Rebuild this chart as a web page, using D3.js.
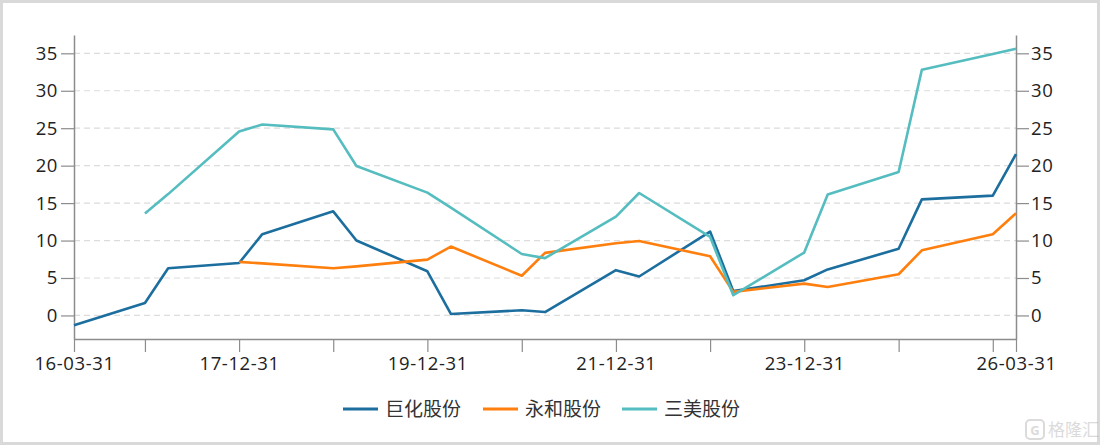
<!DOCTYPE html>
<html>
<head>
<meta charset="utf-8">
<script src="https://cdn.jsdelivr.net/npm/d3@7.9.0/dist/d3.min.js"></script>
<style>
  html, body { margin: 0; padding: 0; background: #fff; }
  svg { display: block; font-family: "Open Sans", "Noto Sans", "Noto Sans CJK SC", sans-serif; }
</style>
</head>
<body>
<svg id="chart" width="1100" height="445"></svg>
<script>
// report dates (annual + Q1)
const dates = [
  "16-03-31", "16-12-31", "17-03-31", "17-12-31", "18-03-31", "18-12-31",
  "19-03-31", "19-12-31", "20-03-31", "20-12-31", "21-03-31", "21-12-31",
  "22-03-31", "22-12-31", "23-03-31", "23-12-31", "24-03-31", "24-12-31",
  "25-03-31", "25-12-31", "26-03-31",
];
const seriesNames = ["巨化股份", "永和股份", "三美股份"];
const juhua = [
  -1.3, 1.65, 6.3, 7.0, 10.85, 13.9, 10.0, 5.9, 0.2, 0.7, 0.45,
  6.05, 5.2, 11.2, 3.25, 4.7, 6.15, 8.9, 15.5, 16.0, 21.55,
];
const yonghe = [
  null, null, null, 7.15, 6.95, 6.3, 6.55, 7.45, 9.2, 5.3, 8.35,
  9.65, 9.95, 7.9, 3.15, 4.25, 3.8, 5.5, 8.7, 10.85, 13.65,
];
const sanmei = [
  null, 13.6, 16.2, 24.55, 25.5, 24.85, 19.95, 16.4, 14.4, 8.2, 7.65,
  13.2, 16.35, 10.5, 2.7, 8.4, 16.15, 19.15, 32.8, 34.9, 35.6,
];
const colors = ["#1c6e9e", "#ff7f0e", "#55bdbf"];
const yTicks = [0, 5, 10, 15, 20, 25, 30, 35];
const xTickDates = [
  "16-03-31", "16-12-31", "17-12-31", "18-12-31", "19-12-31", "20-12-31",
  "21-12-31", "22-12-31", "23-12-31", "24-12-31", "25-12-31", "26-03-31",
];
const xLabeled = ["16-03-31", "17-12-31", "19-12-31", "21-12-31", "23-12-31", "26-03-31"];

const parse = d3.timeParse("%y-%m-%d");
const svg = d3.select("#chart");
const width = 1100, height = 445;
const margin = { top: 35, right: 84, bottom: 106, left: 74 };
const innerW = width - margin.left - margin.right;
const innerH = height - margin.top - margin.bottom;

// outer frame
svg.append("rect")
  .attr("x", 1.5).attr("y", 1.5)
  .attr("width", width - 3).attr("height", height - 3)
  .attr("fill", "#fff").attr("stroke", "#d9d9d9").attr("stroke-width", 3);

const g = svg.append("g").attr("transform", `translate(${margin.left},${margin.top})`);

const x = d3.scaleTime()
  .domain([parse(dates[0]), parse(dates[dates.length - 1])])
  .range([0, innerW]);

const all = juhua.concat(yonghe, sanmei).filter((v) => v != null);
const lo = d3.min(all), hi = d3.max(all);
const pad = (hi - lo) * 0.05;
const y = d3.scaleLinear().domain([lo - pad, hi + pad]).range([innerH, 0]);

// grid
g.append("g")
  .selectAll("line")
  .data(yTicks)
  .join("line")
  .attr("x1", 0).attr("x2", innerW)
  .attr("y1", (d) => y(d)).attr("y2", (d) => y(d))
  .attr("stroke", "#dcdcdc")
  .attr("stroke-width", 1.2)
  .attr("stroke-dasharray", "6,4");

function styleAxis(sel) {
  sel.select(".domain").attr("stroke", "#8c8c8c").attr("stroke-width", 1.5);
  sel.selectAll(".tick line").attr("stroke", "#8c8c8c").attr("stroke-width", 1.2);
  sel.selectAll(".tick text")
    .attr("fill", "#222")
    .style("font-family", "'Open Sans', sans-serif")
    .style("font-size", "18.5px")
    .style("letter-spacing", "0.6px");
}

g.append("g")
  .call(d3.axisLeft(y).tickValues(yTicks).tickSize(13).tickPadding(3).tickSizeOuter(0))
  .call(styleAxis);

g.append("g")
  .attr("transform", `translate(${innerW},0)`)
  .call(d3.axisRight(y).tickValues(yTicks).tickSize(13).tickPadding(2).tickSizeOuter(0))
  .call(styleAxis);

const fmt = d3.timeFormat("%y-%m-%d");
g.append("g")
  .attr("transform", `translate(0,${innerH})`)
  .call(
    d3.axisBottom(x)
      .tickValues(xTickDates.map(parse))
      .tickSize(13)
      .tickPadding(5)
      .tickSizeOuter(0)
      .tickFormat((d) => (xLabeled.includes(fmt(d)) ? fmt(d) : ""))
  )
  .call(styleAxis);

// lines
const seriesValues = [juhua, yonghe, sanmei];
const line = d3.line()
  .defined((d) => d.v != null)
  .x((d) => x(d.date))
  .y((d) => y(d.v));

seriesValues.forEach((vals, i) => {
  const pts = dates.map((d, k) => ({ date: parse(d), v: vals[k] }));
  g.append("path")
    .datum(pts)
    .attr("d", line)
    .attr("fill", "none")
    .attr("stroke", colors[i])
    .attr("stroke-width", 2.6)
    .attr("stroke-linejoin", "round");
});

// legend
const legendItems = [
  { x: 343, name: seriesNames[0], color: colors[0] },
  { x: 483, name: seriesNames[1], color: colors[1] },
  { x: 622, name: seriesNames[2], color: colors[2] },
];
const legend = svg.append("g").attr("transform", "translate(0,409)");
legendItems.forEach((d) => {
  legend.append("line")
    .attr("x1", d.x).attr("x2", d.x + 35)
    .attr("y1", 0).attr("y2", 0)
    .attr("stroke", d.color).attr("stroke-width", 3);
  legend.append("text")
    .attr("x", d.x + 42).attr("y", 0)
    .attr("dy", "0.35em")
    .attr("fill", "#333")
    .style("font-size", "19px")
    .style("font-family", "'Noto Sans CJK SC', sans-serif")
    .text(d.name);
});

// watermark
const wm = svg.append("g").attr("transform", "translate(1026,420)").attr("opacity", 0.35);
wm.append("rect")
  .attr("x", 0).attr("y", 0).attr("width", 18).attr("height", 19).attr("rx", 4)
  .attr("fill", "none").attr("stroke", "#999").attr("stroke-width", 2);
wm.append("text")
  .attr("x", 9).attr("y", 15).attr("text-anchor", "middle")
  .attr("fill", "#999").style("font-size", "13px").style("font-weight", "bold")
  .text("G");
wm.append("text")
  .attr("x", 22).attr("y", 16)
  .attr("fill", "#999")
  .style("font-size", "17px")
  .style("font-family", "'Noto Sans CJK SC', sans-serif")
  .text("格隆汇");
</script>
</body>
</html>
